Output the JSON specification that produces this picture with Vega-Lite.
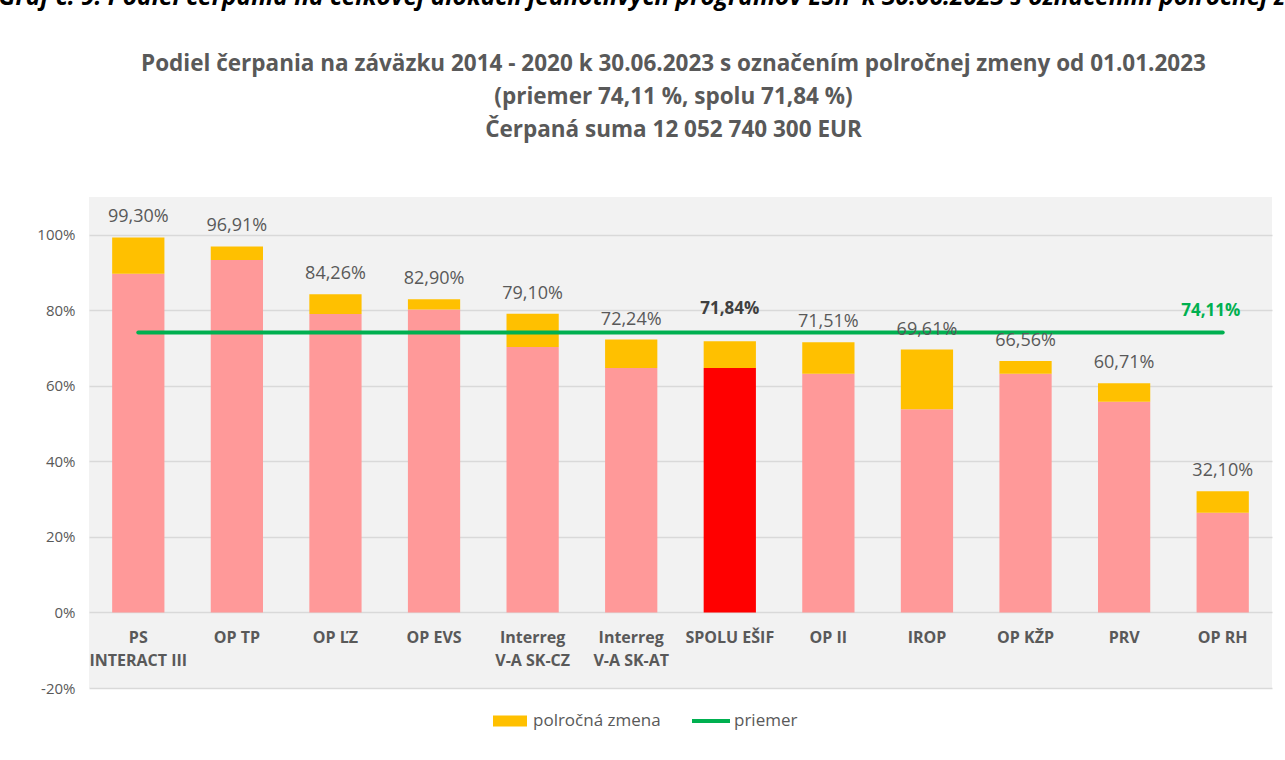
{
  "$schema": "https://vega.github.io/schema/vega-lite/v6.json",
  "width": 1183,
  "height": 491,
  "autosize": "none",
  "padding": {"left": 89, "top": 197, "right": 13, "bottom": 72},
  "background": "white",
  "title": {
    "text": "Graf č. 9: Podiel čerpania na celkovej alokácii jednotlivých programov EŠIF k 30.06.2023 s označením polročnej zmeny",
    "subtitle": [
      "Podiel čerpania na záväzku 2014 - 2020 k 30.06.2023 s označením polročnej zmeny od 01.01.2023",
      "(priemer 74,11 %, spolu 71,84 %)",
      "Čerpaná suma 12 052 740 300 EUR"
    ],
    "anchor": "middle",
    "frame": "group",
    "font": "Open Sans",
    "fontSize": 24.5,
    "fontStyle": "italic",
    "fontWeight": "bold",
    "color": "#000000",
    "subtitleFont": "Open Sans",
    "subtitleFontSize": 22.5,
    "subtitleFontWeight": "bold",
    "subtitleColor": "#595959",
    "subtitleLineHeight": 33,
    "subtitlePadding": 42,
    "offset": 55,
    "dx": -7
  },
  "data": {
    "values": [
      {"program": "PS INTERACT III", "zaciatok_roka": 0.897, "cerpanie": 0.9930, "priemer": 0.7411},
      {"program": "OP TP", "zaciatok_roka": 0.933, "cerpanie": 0.9691, "priemer": 0.7411},
      {"program": "OP ĽZ", "zaciatok_roka": 0.790, "cerpanie": 0.8426, "priemer": 0.7411},
      {"program": "OP EVS", "zaciatok_roka": 0.802, "cerpanie": 0.8290, "priemer": 0.7411},
      {"program": "Interreg V-A SK-CZ", "zaciatok_roka": 0.703, "cerpanie": 0.7910, "priemer": 0.7411},
      {"program": "Interreg V-A SK-AT", "zaciatok_roka": 0.647, "cerpanie": 0.7224, "priemer": 0.7411},
      {"program": "SPOLU EŠIF", "zaciatok_roka": 0.647, "cerpanie": 0.7184, "priemer": 0.7411},
      {"program": "OP II", "zaciatok_roka": 0.632, "cerpanie": 0.7151, "priemer": 0.7411},
      {"program": "IROP", "zaciatok_roka": 0.538, "cerpanie": 0.6961, "priemer": 0.7411},
      {"program": "OP KŽP", "zaciatok_roka": 0.632, "cerpanie": 0.6656, "priemer": 0.7411},
      {"program": "PRV", "zaciatok_roka": 0.558, "cerpanie": 0.6071, "priemer": 0.7411},
      {"program": "OP RH", "zaciatok_roka": 0.264, "cerpanie": 0.3210, "priemer": 0.7411}
    ]
  },
  "encoding": {
    "x": {
      "field": "program",
      "type": "nominal",
      "sort": null,
      "scale": {"paddingInner": 0.47, "paddingOuter": 0.235},
      "axis": {
        "title": null,
        "domain": false,
        "ticks": false,
        "labelAngle": 0,
        "labelFontWeight": "bold",
        "labelFontSize": 16,
        "labelColor": "#595959",
        "labelLineHeight": 23,
        "labelPadding": 17,
        "offset": -76,
        "labelExpr": "datum.label == 'PS INTERACT III' ? ['PS', 'INTERACT III'] : indexof(datum.label, 'Interreg') == 0 ? ['Interreg', substring(datum.label, 9)] : datum.label"
      }
    }
  },
  "layer": [
    {
      "mark": {"type": "bar"},
      "encoding": {
        "y": {
          "field": "zaciatok_roka",
          "type": "quantitative",
          "scale": {"domain": [-0.2, 1.1], "nice": false, "zero": false},
          "axis": {
            "title": null,
            "values": [-0.2, 0, 0.2, 0.4, 0.6, 0.8, 1.0],
            "format": ".0%",
            "domain": false,
            "ticks": false,
            "grid": true,
            "gridColor": "#d9d9d9",
            "gridWidth": 1.5,
            "labelColor": "#595959",
            "labelFontSize": 15,
            "labelPadding": 14
          }
        },
        "y2": {"datum": 0},
        "fill": {
          "condition": {"test": "datum.program == 'SPOLU EŠIF'", "value": "#ff0000"},
          "value": "#ff9999"
        }
      }
    },
    {
      "mark": {"type": "bar"},
      "encoding": {
        "y": {"field": "zaciatok_roka", "type": "quantitative"},
        "y2": {"field": "cerpanie"},
        "fill": {
          "datum": "polročná zmena",
          "scale": {"domain": ["polročná zmena"], "range": ["#ffc000"]},
          "legend": {
            "title": null,
            "orient": "none",
            "legendX": 404,
            "legendY": 507,
            "symbolType": "M-1,-0.33H1V0.33H-1Z",
            "symbolSize": 1156,
            "symbolStrokeWidth": 0,
            "labelFontSize": 17,
            "labelColor": "#595959",
            "labelOffset": 6
          }
        }
      }
    },
    {
      "mark": {"type": "line", "strokeWidth": 4, "strokeCap": "round"},
      "encoding": {
        "y": {"field": "priemer", "type": "quantitative"},
        "stroke": {
          "datum": "priemer",
          "scale": {"domain": ["priemer"], "range": ["#00b050"]},
          "legend": {
            "title": null,
            "orient": "none",
            "legendX": 601,
            "legendY": 503,
            "symbolType": "stroke",
            "symbolSize": 1444,
            "symbolStrokeWidth": 4,
            "labelFontSize": 17,
            "labelColor": "#595959",
            "labelOffset": 2
          }
        }
      }
    },
    {
      "transform": [{"filter": "datum.program != 'SPOLU EŠIF'"}],
      "mark": {"type": "text", "baseline": "bottom", "dy": -11, "fontSize": 18, "color": "#595959"},
      "encoding": {
        "y": {"field": "cerpanie", "type": "quantitative"},
        "text": {"field": "cerpanie", "type": "quantitative", "format": ".2%"}
      }
    },
    {
      "transform": [{"filter": "datum.program == 'SPOLU EŠIF'"}],
      "mark": {"type": "text", "baseline": "bottom", "dy": -23, "fontSize": 17, "fontWeight": "bold", "color": "#404040"},
      "encoding": {
        "y": {"field": "cerpanie", "type": "quantitative"},
        "text": {"field": "cerpanie", "type": "quantitative", "format": ".2%"}
      }
    },
    {
      "transform": [{"filter": "datum.program == 'OP RH'"}],
      "mark": {"type": "text", "baseline": "bottom", "dx": -12, "dy": -13, "fontSize": 17, "fontWeight": "bold", "color": "#00b050"},
      "encoding": {
        "y": {"field": "priemer", "type": "quantitative"},
        "text": {"field": "priemer", "type": "quantitative", "format": ".2%"}
      }
    }
  ],
  "config": {
    "font": "Open Sans",
    "view": {"fill": "#f2f2f2", "stroke": null},
    "locale": {
      "number": {"decimal": ",", "thousands": " ", "grouping": [3], "currency": ["", " €"], "minus": "-"}
    }
  }
}
